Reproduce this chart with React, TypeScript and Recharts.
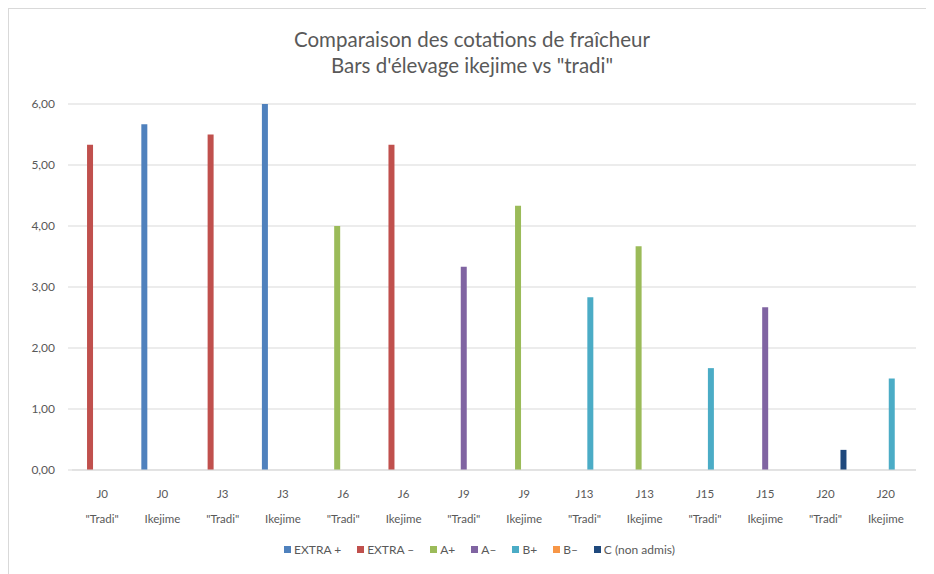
import React from 'react';
import { BarChart, Bar, XAxis, YAxis, CartesianGrid, Legend } from 'recharts';

const days = ['J0', 'J0', 'J3', 'J3', 'J6', 'J6', 'J9', 'J9', 'J13', 'J13', 'J15', 'J15', 'J20', 'J20'];
const methods = ['"Tradi"', 'Ikejime', '"Tradi"', 'Ikejime', '"Tradi"', 'Ikejime', '"Tradi"', 'Ikejime', '"Tradi"', 'Ikejime', '"Tradi"', 'Ikejime', '"Tradi"', 'Ikejime'];

const extraPlus = [null, 5.67, null, 6.0, null, null, null, null, null, null, null, null, null, null];
const extraMinus = [5.33, null, 5.5, null, null, 5.33, null, null, null, null, null, null, null, null];
const aPlus = [null, null, null, null, 4.0, null, null, 4.33, null, 3.67, null, null, null, null];
const aMinus = [null, null, null, null, null, null, 3.33, null, null, null, null, 2.67, null, null];
const bPlus = [null, null, null, null, null, null, null, null, 2.83, null, 1.67, null, null, 1.5];
const bMinus = [null, null, null, null, null, null, null, null, null, null, null, null, null, null];
const cNonAdmis = [null, null, null, null, null, null, null, null, null, null, null, null, 0.33, null];

const yTicks = [0, 1, 2, 3, 4, 5, 6];

const series = [
  { key: 'extraPlus', name: 'EXTRA +', color: '#4F81BD', values: extraPlus },
  { key: 'extraMinus', name: 'EXTRA \u2013', color: '#C0504D', values: extraMinus },
  { key: 'aPlus', name: 'A+', color: '#9BBB59', values: aPlus },
  { key: 'aMinus', name: 'A\u2013', color: '#8064A2', values: aMinus },
  { key: 'bPlus', name: 'B+', color: '#4BACC6', values: bPlus },
  { key: 'bMinus', name: 'B\u2013', color: '#F79646', values: bMinus },
  { key: 'cNonAdmis', name: 'C (non admis)', color: '#1F497D', values: cNonAdmis },
];

const data = days.map((d, i) => {
  const row: any = { cat: `${d} ${methods[i]}`, day: d, method: methods[i] };
  series.forEach((s) => { row[s.key] = s.values[i]; });
  return row;
});

const FONT = 'Lato, "Open Sans", sans-serif';
const GREY = '#595959';

const XTick = (props: any) => {
  const { x, y, payload } = props;
  const i = payload.index;
  return (
    <g transform={`translate(${x},${y})`}>
      <text x={0} y={0} dy={20} textAnchor="middle" fill={GREY} fontSize={11.5} fontFamily={FONT}>{days[i]}</text>
      <text x={0} y={0} dy={45} textAnchor="middle" fill={GREY} fontSize={11.5} fontFamily={FONT}>{methods[i]}</text>
    </g>
  );
};

const LegendContent = () => (
  <div style={{ display: 'flex', justifyContent: 'center', gap: 16, fontFamily: FONT, fontSize: 12, color: GREY, paddingLeft: 34 }}>
    {series.map((s) => (
      <span key={s.key} style={{ display: 'flex', alignItems: 'center' }}>
        <span style={{ display: 'inline-block', width: 7, height: 7, background: s.color, marginRight: 3 }} />
        {s.name}
      </span>
    ))}
  </div>
);

export default function App() {
  return (
    <div style={{ width: 926, height: 566, borderTop: '1px solid #d9d9d9', borderLeft: '1px solid #d9d9d9', position: 'relative', background: '#fff', fontFamily: FONT }}>
      <div style={{ position: 'absolute', top: 17, left: 0, width: 926, textAlign: 'center', color: GREY, fontSize: 20.5, lineHeight: '26px' }}>
        <div>Comparaison des cotations de fraîcheur</div>
        <div>Bars d'élevage ikejime vs "tradi"</div>
      </div>
      <BarChart
        width={926}
        height={565}
        data={data}
        margin={{ top: 95, right: 19, left: 0, bottom: 17 }}
        barCategoryGap="15%"
        barGap={0}
      >
        <CartesianGrid vertical={false} stroke="#d9d9d9" />
        <XAxis
          dataKey="cat"
          interval={0}
          tick={<XTick />}
          tickLine={false}
          axisLine={{ stroke: '#d9d9d9' }}
          height={72}
        />
        <YAxis
          domain={[0, 6]}
          ticks={yTicks}
          width={63}
          axisLine={false}
          tickLine={{ stroke: '#d9d9d9' }}
          tickSize={4}
          tickMargin={13}
          tick={{ fill: GREY, fontSize: 12, fontFamily: FONT }}
          tickFormatter={(v: number) => v.toFixed(2).replace('.', ',')}
        />
        <Legend verticalAlign="bottom" content={<LegendContent />} />
        {series.map((s) => (
          <Bar key={s.key} dataKey={s.key} name={s.name} fill={s.color} isAnimationActive={false} />
        ))}
      </BarChart>
    </div>
  );
}
